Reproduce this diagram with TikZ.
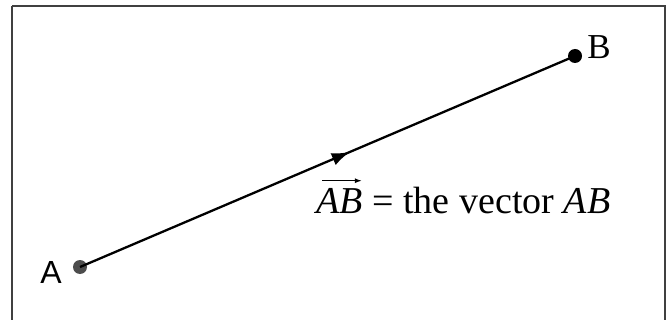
\documentclass[tikz,border=0pt]{standalone}
\usepackage{fontspec}
\setmainfont{Liberation Serif}
\newfontfamily\labsans{Liberation Sans}
\usetikzlibrary{decorations.markings,arrows.meta}
\begin{document}
\begin{tikzpicture}[x=1pt,y=-1pt,
  frame/.style={draw=black!75,line width=2pt},
  vec/.style={line width=2.3pt,
    postaction={decorate,decoration={markings,
      mark=at position 0.545 with {\arrow{Latex[length=18pt,width=13pt]}}}}},
  ptdot/.style={circle,inner sep=0pt,minimum size=14pt},
  big/.style={font=\fontsize{38}{42}\selectfont,inner sep=0pt}]
\useasboundingbox (0,0) rectangle (671,320);
\draw[frame] (12,6.5) -- (665,6.5) -- (665,330);
\draw[frame] (12,6.5) -- (12,330);
\node[ptdot,fill=black!70] (A) at (80,267) {};
\node[ptdot,fill=black] (B) at (575,56) {};
\draw[vec] (A.center) -- (B.center);
\node[font=\labsans\fontsize{32}{36}\selectfont,anchor=base] (la) at (51,283) {A};
\node[font=\fontsize{35}{38}\selectfont,anchor=base] (lb) at (599,59) {B};
\node[big,anchor=base west] (ab) at (316,214) {\textit{AB}};
\node[big,anchor=base west] (rest) at (ab.base east) {\ = the vector \textit{AB}};
\coordinate (ars) at ([xshift=6pt,yshift=8pt]ab.north west);
\coordinate (are) at ([xshift=-1pt,yshift=8pt]ab.north east);
\draw[line width=1.2pt,-{Latex[length=7pt,width=5pt]}] (ars) -- (are);
\end{tikzpicture}
\end{document}
